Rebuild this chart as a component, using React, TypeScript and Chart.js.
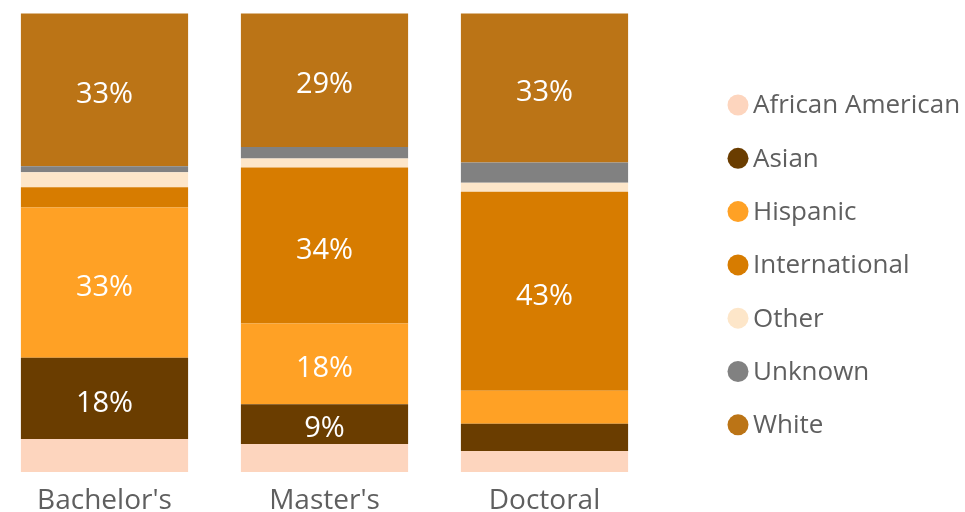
import React, { useEffect, useRef } from "react";
import { Chart, registerables } from "chart.js";

Chart.register(...registerables);

const categories = ["Bachelor's", "Master's", "Doctoral"];
const seriesNames = ["African American", "Asian", "Hispanic", "International", "Other", "Unknown", "White"];
const africanAmerican = [7.2, 6.1, 4.6];
const asian = [17.7, 8.7, 5.9];
const hispanic = [32.8, 17.6, 7.2];
const international = [4.4, 34.0, 43.4];
const other = [3.3, 2.0, 2.0];
const unknown = [1.3, 2.5, 4.4];
const white = [33.3, 29.1, 32.5];
const seriesValues = [africanAmerican, asian, hispanic, international, other, unknown, white];
const colors = ["#FDD5BE", "#6A3D00", "#FFA125", "#D77C00", "#FDE6C9", "#818181", "#BB7416"];

const FONT = "'Open Sans', 'Noto Sans', sans-serif";

const labelPlugin = {
  id: "segLabels",
  afterDatasetsDraw(chart: any) {
    const ctx = chart.ctx;
    ctx.save();
    ctx.font = `29px ${FONT}`;
    ctx.fillStyle = "#ffffff";
    ctx.textAlign = "center";
    ctx.textBaseline = "middle";
    chart.data.datasets.forEach((ds: any, di: number) => {
      const meta = chart.getDatasetMeta(di);
      meta.data.forEach((bar: any, i: number) => {
        const v = ds.data[i];
        if (v >= 8) {
          const p = bar.getProps(["x", "y", "base"], true);
          ctx.fillText(`${Math.round(v)}%`, p.x, (p.y + p.base) / 2 + 5);
        }
      });
    });
    ctx.restore();
  },
};

const legendPlugin = {
  id: "sideLegend",
  afterDraw(chart: any) {
    const ctx = chart.ctx;
    ctx.save();
    ctx.font = `26px ${FONT}`;
    ctx.textAlign = "left";
    ctx.textBaseline = "middle";
    seriesNames.forEach((name, i) => {
      const cy = 105 + i * 53.3;
      ctx.fillStyle = colors[i];
      ctx.beginPath();
      ctx.arc(738, cy, 10.5, 0, Math.PI * 2);
      ctx.fill();
      ctx.fillStyle = "#5f5f5f";
      ctx.fillText(name, 753, cy + 1);
    });
    ctx.restore();
  },
};

export default function App() {
  const ref = useRef<HTMLCanvasElement>(null);
  useEffect(() => {
    if (!ref.current) return;
    const chart = new Chart(ref.current, {
      type: "bar",
      data: {
        labels: categories,
        datasets: seriesNames.map((name, i) => ({
          label: name,
          data: seriesValues[i],
          backgroundColor: colors[i],
          borderWidth: 0,
          categoryPercentage: 1,
          barPercentage: 0.76,
          clip: false as any,
        })),
      },
      options: {
        responsive: false,
        animation: false,
        layout: { padding: { left: 104.5, right: 420.5, top: 13.5, bottom: 0 } },
        plugins: { legend: { display: false }, tooltip: { enabled: false } },
        scales: {
          x: {
            stacked: true,
            offset: false,
            grid: { display: false, drawTicks: false },
            border: { display: false },
            afterFit: (scale: any) => {
              scale.height = 40;
            },
            ticks: {
              autoSkip: false,
              maxRotation: 0,
              color: "#5f5f5f",
              font: { family: FONT, size: 28 },
              padding: 12,
            },
          },
          y: { stacked: true, display: false, min: 0, max: 100 },
        },
      },
      plugins: [labelPlugin, legendPlugin],
    });
    return () => chart.destroy();
  }, []);
  return (
    <div style={{ position: "fixed", left: 0, top: 0, width: 965, height: 512, background: "#fff" }}>
      <canvas ref={ref} width={965} height={512} />
    </div>
  );
}
